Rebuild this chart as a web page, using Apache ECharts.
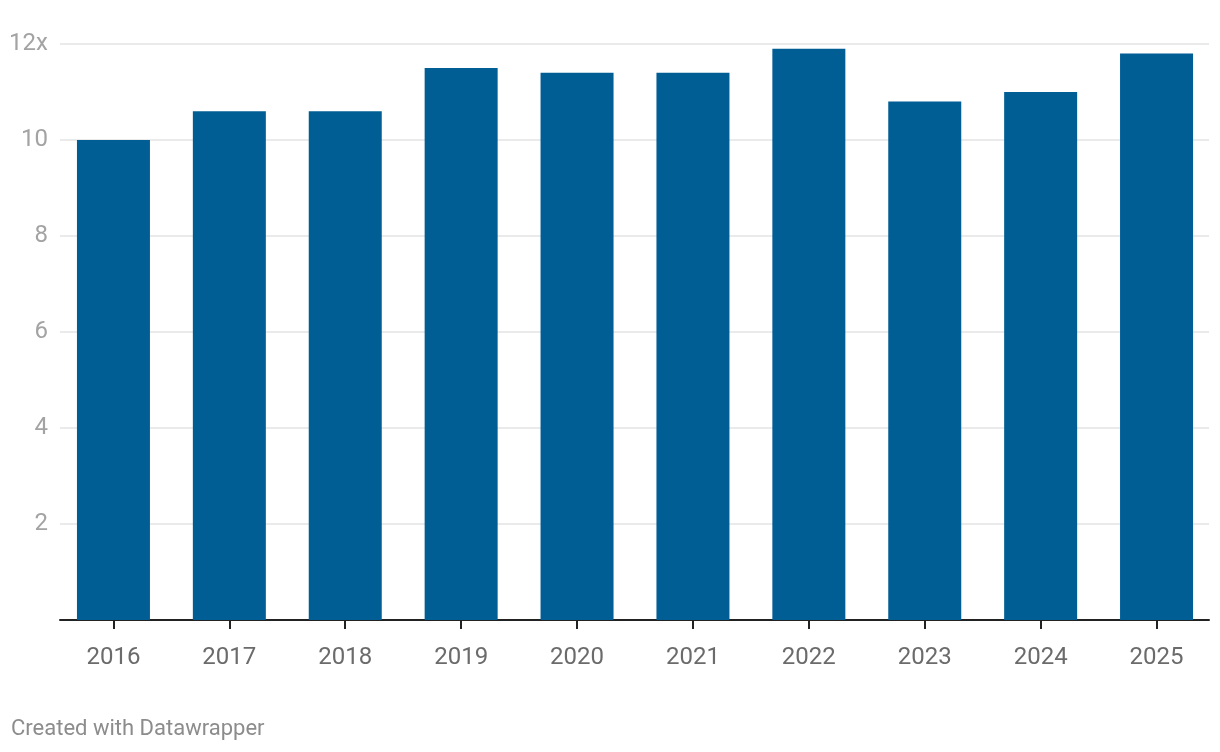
<!DOCTYPE html>
<html>
<head>
<meta charset="utf-8">
<script src="https://cdn.jsdelivr.net/npm/echarts@6/dist/echarts.min.js"></script>
<style>
html,body{margin:0;padding:0;background:#fff;}
#chart{width:1220px;height:752px;}
</style>
</head>
<body>
<div id="chart"></div>
<script>
const years = ['2016','2017','2018','2019','2020','2021','2022','2023','2024','2025'];
const values = [10.0, 10.6, 10.6, 11.5, 11.4, 11.4, 11.9, 10.8, 11.0, 11.8];
const yTicks = [0, 2, 4, 6, 8, 10, 12];

const chart = echarts.init(document.getElementById('chart'), null, {renderer: 'canvas'});
const font = 'Roboto, "Noto Sans", sans-serif';
chart.setOption({
  animation: false,
  backgroundColor: '#ffffff',
  title: {
    text: 'Created with Datawrapper',
    left: 6, top: 713,
    textStyle: {fontFamily: font, fontSize: 22, fontWeight: 'normal', color: '#8c8c8c'}
  },
  grid: [
    {left: 60, right: 11, top: 44, bottom: 132},
    {left: 55.5, right: 5.5, top: 44, bottom: 132}
  ],
  xAxis: [
    {gridIndex: 0, type: 'value', min: 0, max: 1,
     axisLine: {show: true, onZero: false, lineStyle: {color: '#222', width: 2}},
     axisTick: {show: false}, axisLabel: {show: false}, splitLine: {show: false}},
    {gridIndex: 1, type: 'category', data: years,
     axisLine: {show: false},
     axisTick: {show: true, alignWithLabel: true, length: 9, lineStyle: {color: '#222', width: 2}},
     axisLabel: {margin: 26, fontFamily: font, fontSize: 24, color: '#6b6b6b'}}
  ],
  yAxis: [
    {gridIndex: 0, type: 'value', min: 0, max: 12, interval: 2,
     axisLine: {show: false}, axisTick: {show: false},
     splitLine: {show: true, lineStyle: {color: '#e3e3e3', width: 1.5}},
     axisLabel: {margin: 12, fontFamily: font, fontSize: 24, color: '#a3a3a3',
       formatter: function (v) { return v === 0 ? '' : (v === 12 ? v + 'x' : String(v)); }}},
    {gridIndex: 1, type: 'value', min: 0, max: 12, show: false, splitLine: {show: false}}
  ],
  series: [{
    type: 'bar',
    xAxisIndex: 1, yAxisIndex: 1,
    data: values,
    barWidth: 73,
    itemStyle: {color: '#005e95'},
    z: 3
  }]
});
</script>
</body>
</html>
